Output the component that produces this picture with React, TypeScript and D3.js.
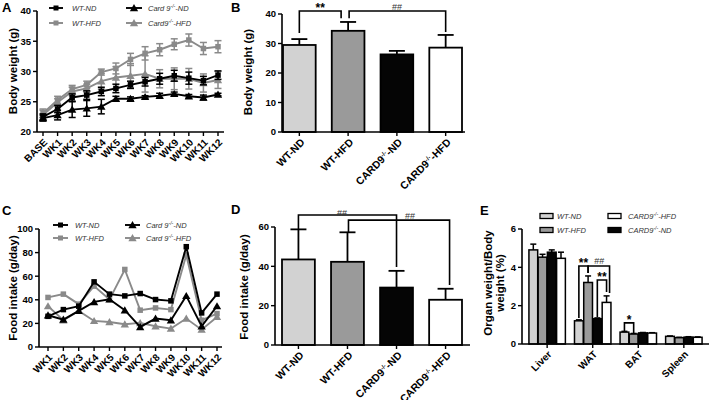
import React from "react";
import * as d3 from "d3";

const FONT = "'Liberation Sans', Arial, sans-serif";

// ---------- Panel A: body weight over time ----------
const weeksA = ["BASE", "WK1", "WK2", "WK3", "WK4", "WK5", "WK6", "WK7", "WK8", "WK9", "WK10", "WK11", "WK12"];
const bwWTND = [22.5, 23.8, 25.7, 26.1, 26.7, 27.2, 27.8, 28.3, 28.8, 29.3, 28.9, 28.5, 29.4];
const bwWTNDErr = [0.5, 0.6, 0.6, 0.7, 0.7, 0.7, 0.6, 0.7, 0.9, 0.9, 1.0, 0.7, 0.7];
const bwWTHFD = [23.1, 25.3, 27.1, 27.8, 29.9, 30.5, 32.0, 33.0, 33.6, 34.5, 35.2, 33.8, 34.1];
const bwWTHFDErr = [0.7, 0.6, 0.6, 0.6, 0.5, 0.9, 1.0, 1.1, 1.0, 0.9, 1.0, 1.0, 1.0];
const bwKOND = [22.3, 22.8, 23.7, 23.9, 24.2, 25.5, 25.5, 25.8, 26.0, 26.3, 25.9, 25.7, 26.2];
const bwKONDErr = [0.5, 0.8, 1.3, 1.3, 1.2, 0.4, 0.3, 0.2, 0.4, 0.3, 0.3, 0.4, 0.2];
const bwKOHFD = [22.8, 24.9, 26.7, 27.2, 28.4, 29.0, 29.3, 29.6, 28.8, 28.8, 28.8, 28.1, 28.6];
const bwKOHFDErr = [0.8, 0.6, 0.7, 0.7, 1.3, 1.8, 2.0, 3.0, 1.5, 1.8, 1.7, 1.5, 1.4];
const ticksA = [20, 25, 30, 35, 40];

// ---------- Panel B: final body weight ----------
const groupLabels = ["WT-ND", "WT-HFD", "CARD9^-/-^-ND", "CARD9^-/-^-HFD"];
const bwFinal = [29.5, 34.3, 26.3, 28.6];
const bwFinalErr = [2.0, 3.0, 1.2, 4.3];
const ticksB = [0, 10, 20, 30, 40];

// ---------- Panel C: weekly food intake ----------
const weeksC = ["WK1", "WK2", "WK3", "WK4", "WK5", "WK6", "WK7", "WK8", "WK9", "WK10", "WK11", "WK12"];
const fiWTND = [26, 31.7, 34.6, 55.2, 44.8, 43.3, 45.3, 40.2, 39.1, 85, 28.9, 44.8];
const fiWTHFD = [42, 44.8, 36.3, 51.6, 40.2, 65.7, 31.2, 33.1, 31.7, 77.9, 22.7, 28.3];
const fiKOND = [26.9, 23.2, 30.6, 38.2, 40.5, 31.2, 17, 24.1, 22.7, 43.3, 17.6, 34.6];
const fiKOHFD = [34.6, 22.7, 30.6, 22.1, 21.2, 19.3, 20.4, 17.6, 15.6, 24.1, 14.7, 25.5];
const ticksC = [0, 20, 40, 60, 80, 100];

// ---------- Panel D: mean food intake ----------
const fiMean = [43.5, 42.3, 29.2, 23.0];
const fiErr = [15.3, 15.0, 8.5, 5.6];
const ticksD = [0, 20, 40, 60];

// ---------- Panel E: organ weight ratio ----------
const organs = ["Liver", "WAT", "BAT", "Spleen"];
const orgWTND = [4.91, 1.21, 0.62, 0.4];
const orgWTNDErr = [0.3, 0.05, 0.04, 0.02];
const orgWTHFD = [4.53, 3.21, 0.52, 0.33];
const orgWTHFDErr = [0.15, 0.34, 0.03, 0.02];
const orgKOND = [4.79, 1.32, 0.58, 0.36];
const orgKONDErr = [0.12, 0.04, 0.02, 0.02];
const orgKOHFD = [4.47, 2.17, 0.57, 0.35];
const orgKOHFDErr = [0.32, 0.34, 0.02, 0.02];
const ticksE = [0, 2, 4, 6];

const GRAY_LINE = "#8a8a8a";
const BAR_FILLS = ["#d2d2d2", "#9a9a9a", "#050505", "#ffffff"];

function Lbl({ label, supSize = 6, shift = 4 }: { label: string; supSize?: number; shift?: number }) {
  const p = label.split("^");
  if (p.length === 3) {
    return (
      <>
        {p[0]}
        <tspan fontSize={supSize} dy={-shift}>{p[1]}</tspan>
        <tspan dy={shift}>{p[2]}</tspan>
      </>
    );
  }
  return <>{label}</>;
}

function YAxis({ scale, ticks, x, fs = 9.5 }: any) {
  return (
    <g>
      <line x1={x} x2={x} y1={scale(ticks[ticks.length - 1])} y2={scale(ticks[0])} stroke="#000" strokeWidth={1.6} />
      {ticks.map((t: number) => (
        <g key={t}>
          <line x1={x - 4} x2={x} y1={scale(t)} y2={scale(t)} stroke="#000" strokeWidth={1.4} />
          <text x={x - 6} y={scale(t)} dy="0.35em" textAnchor="end" fontSize={fs} fontWeight="bold">{t}</text>
        </g>
      ))}
    </g>
  );
}

function XAxis({ x0, x1, y, positions, labels, fs = 10, dx = 5, dy = 11 }: any) {
  return (
    <g>
      <line x1={x0} x2={x1} y1={y} y2={y} stroke="#000" strokeWidth={1.6} />
      {positions.map((px: number, i: number) => (
        <g key={i}>
          <line x1={px} x2={px} y1={y} y2={y + 4} stroke="#000" strokeWidth={1.4} />
          <text transform={`translate(${px + dx},${y + dy}) rotate(-45)`} textAnchor="end" fontSize={fs} fontWeight="bold">
            <Lbl label={labels[i]} />
          </text>
        </g>
      ))}
    </g>
  );
}

function Marker({ shape, x, y, color, size = 5.5 }: any) {
  if (shape === "square") {
    return <rect x={x - size / 2} y={y - size / 2} width={size} height={size} fill={color} />;
  }
  const p = d3.symbol(d3.symbolTriangle, 30)();
  return <path d={p as string} transform={`translate(${x},${y + 0.8})`} fill={color} />;
}

function LineSeries({ xs, y, values, err, color, shape }: any) {
  const line = d3.line<number>().x((_, i) => xs[i]).y((d) => y(d));
  return (
    <g>
      <path d={line(values) as string} fill="none" stroke={color} strokeWidth={1.9} />
      {err &&
        values.map((v: number, i: number) => (
          <g key={"e" + i} stroke={color} strokeWidth={1.5}>
            <line x1={xs[i]} x2={xs[i]} y1={y(v - err[i])} y2={y(v + err[i])} />
            <line x1={xs[i] - 3.5} x2={xs[i] + 3.5} y1={y(v - err[i])} y2={y(v - err[i])} />
            <line x1={xs[i] - 3.5} x2={xs[i] + 3.5} y1={y(v + err[i])} y2={y(v + err[i])} />
          </g>
        ))}
      {values.map((v: number, i: number) => (
        <Marker key={i} shape={shape} x={xs[i]} y={y(v)} color={color} />
      ))}
    </g>
  );
}

function LegendLine({ x, y, w, color, shape, label, tx }: any) {
  return (
    <g>
      <line x1={x} x2={x + w} y1={y} y2={y} stroke={color} strokeWidth={1.9} />
      <Marker shape={shape} x={x + w / 2} y={y} color={color} size={5} />
      <text x={tx} y={y} dy="0.35em" fontSize={7.5} fontStyle="italic" fill="#333">
        <Lbl label={label} supSize={5} shift={3} />
      </text>
    </g>
  );
}

function Bracket({ x1, x2, yTop, y1, y2 }: any) {
  return <path d={`M${x1},${y1}V${yTop}H${x2}V${y2}`} fill="none" stroke="#000" strokeWidth={1.6} />;
}

function PanelA() {
  const x = d3.scalePoint<string>().domain(weeksA).range([43, 218]);
  const y = d3.scaleLinear().domain([20, 40]).range([132, 11]);
  const xs = weeksA.map((w) => x(w) as number);
  return (
    <g>
      <text x={2} y={12} fontSize={13} fontWeight="bold">A</text>
      <text transform={`translate(17,71) rotate(-90)`} textAnchor="middle" fontSize={11.5} fontWeight="bold">Body weight (g)</text>
      <LineSeries xs={xs} y={y} values={bwWTHFD} err={bwWTHFDErr} color={GRAY_LINE} shape="square" />
      <LineSeries xs={xs} y={y} values={bwKOHFD} err={bwKOHFDErr} color={GRAY_LINE} shape="tri" />
      <LineSeries xs={xs} y={y} values={bwWTND} err={bwWTNDErr} color="#000" shape="square" />
      <LineSeries xs={xs} y={y} values={bwKOND} err={bwKONDErr} color="#000" shape="tri" />
      <YAxis scale={y} ticks={ticksA} x={37} />
      <XAxis x0={37} x1={224} y={132} positions={xs} labels={weeksA} />
      <LegendLine x={49} y={8} w={14} color="#000" shape="square" label="WT-ND" tx={72} />
      <LegendLine x={49} y={23} w={14} color={GRAY_LINE} shape="square" label="WT-HFD" tx={72} />
      <LegendLine x={126} y={8} w={16} color="#000" shape="tri" label="Card 9^-/-^-ND" tx={148} />
      <LegendLine x={126} y={23} w={16} color={GRAY_LINE} shape="tri" label="Card9^-/-^-HFD" tx={148} />
    </g>
  );
}

function Bars({ x, y, values, err, capW = 16 }: any) {
  return (
    <g>
      {values.map((v: number, i: number) => {
        const bx = x(groupLabels[i]) as number;
        const bw = x.bandwidth();
        const cx = bx + bw / 2;
        return (
          <g key={i}>
            <line x1={cx} x2={cx} y1={y(v)} y2={y(v + err[i])} stroke="#000" strokeWidth={1.8} />
            <line x1={cx - capW / 2} x2={cx + capW / 2} y1={y(v + err[i])} y2={y(v + err[i])} stroke="#000" strokeWidth={1.8} />
            <rect x={bx} y={y(v)} width={bw} height={y(0) - y(v)} fill={BAR_FILLS[i]} stroke="#000" strokeWidth={1.8} />
          </g>
        );
      })}
    </g>
  );
}

function PanelB() {
  const x = d3.scaleBand<string>().domain(groupLabels).range([283, 462]).paddingInner(0.33).paddingOuter(0);
  const y = d3.scaleLinear().domain([0, 40]).range([132, 14]);
  const cx = (i: number) => (x(groupLabels[i]) as number) + x.bandwidth() / 2;
  return (
    <g>
      <text x={231} y={12} fontSize={13} fontWeight="bold">B</text>
      <text transform={`translate(252,72) rotate(-90)`} textAnchor="middle" fontSize={11.5} fontWeight="bold">Body weight (g)</text>
      <Bars x={x} y={y} values={bwFinal} err={bwFinalErr} />
      <YAxis scale={y} ticks={ticksB} x={282} />
      <XAxis x0={282} x1={465} y={132} positions={groupLabels.map((_, i) => cx(i))} labels={groupLabels} fs={10.5} dx={6} dy={11} />
      <Bracket x1={cx(0)} x2={cx(1) - 7} yTop={y(41)} y1={y(33.6)} y2={y(38.6)} />
      <Bracket x1={cx(1) + 1} x2={cx(3)} yTop={y(41)} y1={y(38.6)} y2={y(33.9)} />
      <text x={(cx(0) + cx(1) - 7) / 2} y={12} textAnchor="middle" fontSize={12} fontWeight="bold">**</text>
      <text x={(cx(1) + cx(3)) / 2} y={9.5} textAnchor="middle" fontSize={9} fill="#333">##</text>
    </g>
  );
}

function PanelC() {
  const x = d3.scalePoint<string>().domain(weeksC).range([48, 217]);
  const y = d3.scaleLinear().domain([0, 100]).range([347, 229]);
  const xs = weeksC.map((w) => x(w) as number);
  return (
    <g>
      <text x={2} y={215} fontSize={13} fontWeight="bold">C</text>
      <text transform={`translate(17,288) rotate(-90)`} textAnchor="middle" fontSize={11.5} fontWeight="bold">Food intake (g/day)</text>
      <LineSeries xs={xs} y={y} values={fiWTHFD} color={GRAY_LINE} shape="square" />
      <LineSeries xs={xs} y={y} values={fiKOHFD} color={GRAY_LINE} shape="tri" />
      <LineSeries xs={xs} y={y} values={fiWTND} color="#000" shape="square" />
      <LineSeries xs={xs} y={y} values={fiKOND} color="#000" shape="tri" />
      <YAxis scale={y} ticks={ticksC} x={39} />
      <XAxis x0={39} x1={222} y={347} positions={xs} labels={weeksC} />
      <LegendLine x={53} y={225} w={15} color="#000" shape="square" label="WT-ND" tx={75} />
      <LegendLine x={53} y={238} w={15} color={GRAY_LINE} shape="square" label="WT-HFD" tx={75} />
      <LegendLine x={125} y={225} w={15} color="#000" shape="tri" label="Card 9^-/-^-ND" tx={146} />
      <LegendLine x={125} y={238} w={15} color={GRAY_LINE} shape="tri" label="Card 9^-/-^-HFD" tx={146} />
    </g>
  );
}

function PanelD() {
  const x = d3.scaleBand<string>().domain(groupLabels).range([282, 462]).paddingInner(0.33).paddingOuter(0);
  const y = d3.scaleLinear().domain([0, 60]).range([345, 227]);
  const cx = (i: number) => (x(groupLabels[i]) as number) + x.bandwidth() / 2;
  return (
    <g>
      <text x={231} y={214} fontSize={13} fontWeight="bold">D</text>
      <text transform={`translate(248,287) rotate(-90)`} textAnchor="middle" fontSize={11.5} fontWeight="bold">Food intake (g/day)</text>
      <Bars x={x} y={y} values={fiMean} err={fiErr} />
      <YAxis scale={y} ticks={ticksD} x={275} />
      <XAxis x0={275} x1={470} y={345} positions={groupLabels.map((_, i) => cx(i))} labels={groupLabels} fs={10.5} dx={6} dy={11} />
      <Bracket x1={cx(0)} x2={cx(2)} yTop={y(66.1)} y1={y(58.8)} y2={y(39.6)} />
      <Bracket x1={cx(1) + 1} x2={cx(3) + 4} yTop={y(63.5)} y1={y(57.3)} y2={y(30.5)} />
      <text x={342} y={216} textAnchor="middle" fontSize={9} fill="#333">##</text>
      <text x={410} y={219} textAnchor="middle" fontSize={9} fill="#333">##</text>
    </g>
  );
}

function PanelE() {
  const keys = ["a", "b", "c", "d"];
  const x0 = d3.scaleBand<string>().domain(organs).range([523, 708]).paddingInner(0.2).paddingOuter(0.13);
  const x1 = d3.scaleBand<string>().domain(keys).range([0, x0.bandwidth()]).paddingInner(0.05);
  const y = d3.scaleLinear().domain([0, 6]).range([344, 229]);
  const series = [
    [orgWTND, orgWTNDErr],
    [orgWTHFD, orgWTHFDErr],
    [orgKOND, orgKONDErr],
    [orgKOHFD, orgKOHFDErr],
  ];
  const bc = (o: number, k: number) => (x0(organs[o]) as number) + (x1(keys[k]) as number) + x1.bandwidth() / 2;
  const centers = organs.map((o) => (x0(o) as number) + x0.bandwidth() / 2);
  return (
    <g>
      <text x={480} y={215} fontSize={13} fontWeight="bold">E</text>
      <text transform={`translate(492,283) rotate(-90)`} textAnchor="middle" fontSize={11.5} fontWeight="bold">Organ weight/Body</text>
      <text transform={`translate(504,283) rotate(-90)`} textAnchor="middle" fontSize={11.5} fontWeight="bold">weight (%)</text>
      {organs.map((o, oi) => (
        <g key={o}>
          {series.map(([vals, errs], k) => {
            const bx = (x0(o) as number) + (x1(keys[k]) as number);
            const bw = x1.bandwidth();
            const v = vals[oi];
            const e = errs[oi];
            const c = bx + bw / 2;
            return (
              <g key={k}>
                <line x1={c} x2={c} y1={y(v)} y2={y(v + e)} stroke="#000" strokeWidth={1.5} />
                <line x1={c - 3} x2={c + 3} y1={y(v + e)} y2={y(v + e)} stroke="#000" strokeWidth={1.5} />
                <rect x={bx} y={y(v)} width={bw} height={y(0) - y(v)} fill={BAR_FILLS[k]} stroke="#000" strokeWidth={1.5} />
              </g>
            );
          })}
        </g>
      ))}
      <YAxis scale={y} ticks={ticksE} x={522} />
      <XAxis x0={522} x1={709} y={344} positions={centers} labels={organs} fs={10} dx={5} dy={11} />
      <Bracket x1={bc(1, 0)} x2={bc(1, 1)} yTop={y(4.07)} y1={y(1.36)} y2={y(3.7)} />
      <Bracket x1={bc(1, 1)} x2={bc(1, 3) + 3} yTop={y(4.07)} y1={y(3.7)} y2={y(2.66)} />
      <Bracket x1={bc(1, 2)} x2={bc(1, 3)} yTop={y(3.34)} y1={y(1.41)} y2={y(2.71)} />
      <Bracket x1={bc(2, 0)} x2={bc(2, 1)} yTop={y(1.1)} y1={y(0.68)} y2={y(0.57)} />
      <text x={(bc(1, 0) + bc(1, 1)) / 2} y={267} textAnchor="middle" fontSize={12} fontWeight="bold">**</text>
      <text x={(bc(1, 1) + bc(1, 3)) / 2 + 2} y={264} textAnchor="middle" fontSize={9} fill="#333">##</text>
      <text x={(bc(1, 2) + bc(1, 3)) / 2} y={281} textAnchor="middle" fontSize={12} fontWeight="bold">**</text>
      <text x={(bc(2, 0) + bc(2, 1)) / 2} y={324} textAnchor="middle" fontSize={12} fontWeight="bold">*</text>
      {/* legend */}
      {[
        { x: 540, y: 216, fill: BAR_FILLS[0], label: "WT-ND", tx: 557 },
        { x: 540, y: 230, fill: BAR_FILLS[1], label: "WT-HFD", tx: 557 },
        { x: 608, y: 216, fill: BAR_FILLS[3], label: "CARD9^-/-^-HFD", tx: 628 },
        { x: 608, y: 230, fill: BAR_FILLS[2], label: "CARD9^-/-^-ND", tx: 628 },
      ].map((l, i) => (
        <g key={i}>
          <rect x={l.x} y={l.y - 2.5} width={13} height={5} fill={l.fill} stroke="#000" strokeWidth={1.3} />
          <text x={l.tx} y={l.y} dy="0.35em" fontSize={7.5} fontStyle="italic" fill="#333">
            <Lbl label={l.label} supSize={5} shift={3} />
          </text>
        </g>
      ))}
    </g>
  );
}

export default function App() {
  return (
    <svg width={709} height={400} viewBox="0 0 709 400" style={{ position: "absolute", left: 0, top: 0, background: "#fff" }} fontFamily={FONT}>
      <rect width={709} height={400} fill="#fff" />
      <PanelA />
      <PanelB />
      <PanelC />
      <PanelD />
      <PanelE />
    </svg>
  );
}
